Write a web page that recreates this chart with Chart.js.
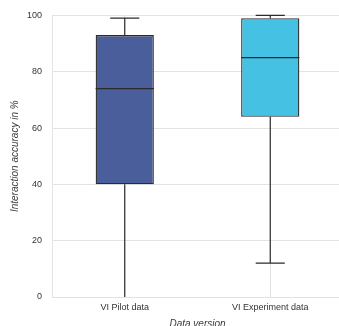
<!DOCTYPE html>
<html>
<head>
<meta charset="utf-8">
<script src="https://cdn.jsdelivr.net/npm/chart.js@4.4.1/dist/chart.umd.min.js"></script>
<style>
  html, body { margin: 0; padding: 0; background: #ffffff; overflow: hidden; }
  #wrap { width: 339px; height: 326px; overflow: hidden; position: relative; }
  #chart { position: absolute; left: 0; top: 0; }
</style>
</head>
<body>
<div id="wrap"><canvas id="chart" width="343" height="330"></canvas></div>
<script>
// Box plot summary per data version (accuracy in %)
const categories = ['VI Pilot data', 'VI Experiment data'];
const whiskerLow = [0, 12];
const q1 = [40, 64];
const median = [74, 85];
const q3 = [93, 99];
const whiskerHigh = [99, 100];
const boxColors = ['#4a5e9c', '#45c1e4'];
const yTicks = [0, 20, 40, 60, 80, 100];

const edgeColor = '#2b2b2b';
const font = { family: '"Liberation Sans", Arial, sans-serif', size: 9 };
const titleFont = { family: '"Liberation Sans", Arial, sans-serif', size: 10, style: 'italic' };

// Whiskers, caps and median lines, placed through the chart's scales
const boxPlotLines = {
  id: 'boxPlotLines',
  beforeDatasetsDraw(chart) {
    const { ctx, scales: { x, y } } = chart;
    const meta = chart.getDatasetMeta(0);
    ctx.save();
    ctx.strokeStyle = edgeColor;
    ctx.lineWidth = 1.2;
    categories.forEach((c, i) => {
      const bar = meta.data[i];
      const cx = x.getPixelForValue(i);
      const capHalf = bar.width / 4;
      const yLo = y.getPixelForValue(whiskerLow[i]);
      const yHi = y.getPixelForValue(whiskerHigh[i]);
      const yQ1 = y.getPixelForValue(q1[i]);
      const yQ3 = y.getPixelForValue(q3[i]);
      ctx.beginPath();
      ctx.moveTo(cx, yQ3); ctx.lineTo(cx, yHi);
      ctx.moveTo(cx, yQ1); ctx.lineTo(cx, yLo);
      ctx.moveTo(cx - capHalf, yHi); ctx.lineTo(cx + capHalf, yHi);
      // a cap lying on the bottom axis stays hidden behind it
      if (whiskerLow[i] > y.min) {
        ctx.moveTo(cx - capHalf, yLo); ctx.lineTo(cx + capHalf, yLo);
      }
      ctx.stroke();
    });
    ctx.restore();
  },
  afterDatasetsDraw(chart) {
    const { ctx, scales: { x, y } } = chart;
    const meta = chart.getDatasetMeta(0);
    ctx.save();
    ctx.strokeStyle = edgeColor;
    ctx.lineWidth = 1.2;
    categories.forEach((c, i) => {
      const bar = meta.data[i];
      const cx = x.getPixelForValue(i);
      const ym = y.getPixelForValue(median[i]);
      ctx.beginPath();
      ctx.moveTo(cx - bar.width / 2, ym);
      ctx.lineTo(cx + bar.width / 2, ym);
      ctx.stroke();
    });
    ctx.restore();
  }
};

new Chart(document.getElementById('chart'), {
  type: 'bar',
  data: {
    labels: categories,
    datasets: [{
      data: categories.map((c, i) => [q1[i], q3[i]]),
      backgroundColor: boxColors,
      borderColor: edgeColor,
      borderWidth: 1.3,
      borderSkipped: false,
      barPercentage: 0.4,
      categoryPercentage: 1.0
    }]
  },
  options: {
    responsive: false,
    animation: false,
    layout: { padding: { top: 14, right: 0, left: 0, bottom: 0 } },
    plugins: { legend: { display: false }, tooltip: { enabled: false } },
    scales: {
      x: {
        offset: true,
        grid: { offset: false, color: '#e3e3e3', lineWidth: 1, drawTicks: false },
        border: { color: '#e3e3e3', width: 1 },
        ticks: { color: '#333333', font, padding: 5 },
        title: { display: true, text: 'Data version', color: '#3a3a3a',
                 font: titleFont, padding: { top: 0, bottom: 0 } },
        afterFit(scale) { scale.height = 33; }
      },
      y: {
        min: 0, max: 100,
        afterBuildTicks(scale) { scale.ticks = yTicks.map(v => ({ value: v })); },
        grid: { color: '#e3e3e3', lineWidth: 1, drawTicks: false },
        border: { color: '#e3e3e3', width: 1 },
        ticks: { color: '#333333', font, padding: 10 },
        title: { display: true, text: 'Interaction accuracy in %', color: '#3a3a3a',
                 font: titleFont, padding: { top: 9, bottom: 0 } },
        afterFit(scale) { scale.width = 52; }
      }
    }
  },
  plugins: [boxPlotLines]
});
</script>
</body>
</html>
